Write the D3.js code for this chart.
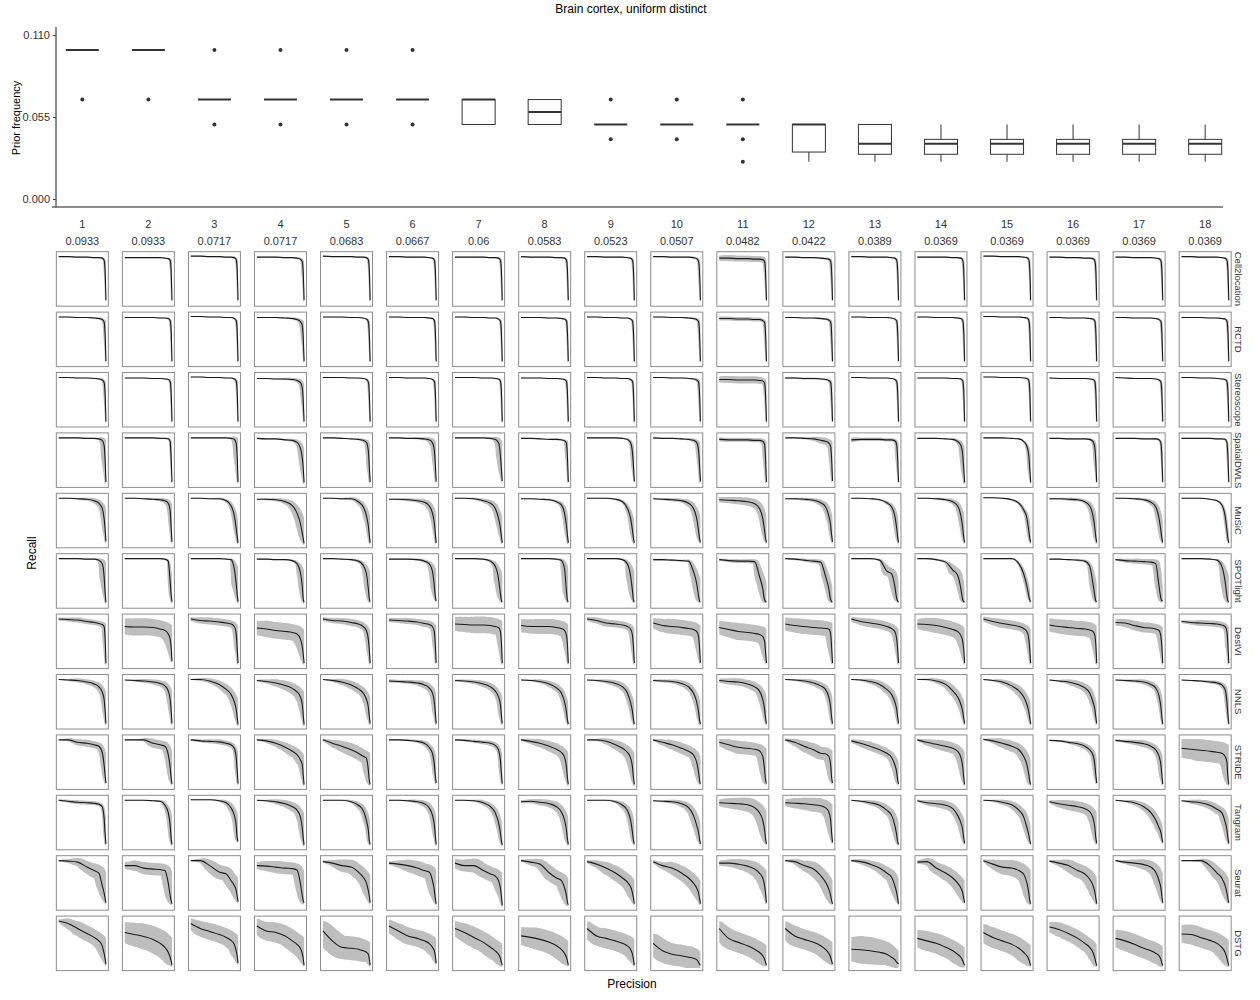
<!DOCTYPE html>
<html><head><meta charset="utf-8">
<script src="https://cdn.jsdelivr.net/npm/d3@7"></script>
<style>body{margin:0;background:#fff}svg text{font-family:"Liberation Sans",Arial,sans-serif}</style>
</head><body><svg id="c" width="1260" height="1000"></svg>
<script>
const title = "Brain cortex, uniform distinct";
const categories = ["1","2","3","4","5","6","7","8","9","10","11","12","13","14","15","16","17","18"];
const priorLabels = ["0.0933","0.0933","0.0717","0.0717","0.0683","0.0667","0.06","0.0583","0.0523","0.0507","0.0482","0.0422","0.0389","0.0369","0.0369","0.0369","0.0369","0.0369"];
const yTicks = [0, 0.055, 0.11];
const boxQ1  = [0.1,0.1,0.0667,0.0667,0.0667,0.0667,0.05,0.05,0.05,0.05,0.05,0.0315,0.03,0.03,0.03,0.03,0.03,0.03];
const boxMed = [0.1,0.1,0.0667,0.0667,0.0667,0.0667,0.0667,0.0583,0.05,0.05,0.05,0.05,0.037,0.037,0.037,0.037,0.037,0.037];
const boxQ3  = [0.1,0.1,0.0667,0.0667,0.0667,0.0667,0.0667,0.0667,0.05,0.05,0.05,0.05,0.05,0.04,0.04,0.04,0.04,0.04];
const whiskLo= [0.1,0.1,0.0667,0.0667,0.0667,0.0667,0.05,0.05,0.05,0.05,0.05,0.025,0.025,0.025,0.025,0.025,0.025,0.025];
const whiskHi= [0.1,0.1,0.0667,0.0667,0.0667,0.0667,0.0667,0.0667,0.05,0.05,0.05,0.05,0.05,0.05,0.05,0.05,0.05,0.05];
const outliers = [[0.0667],[0.0667],[0.1,0.05],[0.1,0.05],[0.1,0.05],[0.1,0.05],[],[],[0.0667,0.04],[0.0667,0.04],[0.0667,0.04,0.025],[],[],[],[],[],[],[]];

const methods = ["Cell2location","RCTD","Stereoscope","SpatialDWLS","MuSiC","SPOTlight","DestVI","NNLS","STRIDE","Tangram","Seurat","DSTG"];
const precisionKnots = [0,0.2,0.4,0.6,0.75,0.85,0.92,0.96,0.98,1];

// recall (%) at each precision knot (one array per column) and spread of the band (%)
const recall_Cell2location = [[95,95,94,94,93,93,92,88,70,7],[93,93,93,93,93,92,91,88,70,7],[96,96,95,95,94,94,93,89,72,7],[94,94,94,93,93,92,90,85,65,7],[96,95,95,95,94,94,93,89,72,7],[95,95,94,94,94,93,92,88,70,7],[94,94,94,94,93,93,92,88,70,7],[95,94,94,94,93,93,92,88,70,7],[95,95,94,94,94,93,92,88,70,7],[95,95,94,94,94,93,91,86,68,7],[92,92,91,91,90,90,89,85,65,7],[94,94,93,93,92,91,90,86,68,7],[95,95,94,94,94,93,92,88,70,7],[94,94,94,94,93,93,92,88,70,7],[96,96,95,95,95,94,93,89,72,7],[94,94,93,93,92,92,91,87,70,7],[94,94,93,93,93,92,91,87,70,7],[95,95,94,94,94,93,92,88,70,7]];
const band_Cell2location = [[1,1,1,1,1,1,2,3,3,2],[1,1,1,1,1,1,2,3,3,2],[1,1,1,1,1,1,2,3,3,2],[1,1,1,1,1,2,3,4,4,2],[1,1,1,1,1,1,2,3,3,2],[1,1,1,1,1,1,2,3,3,2],[1,1,1,1,1,1,2,3,3,2],[1,1,1,1,1,1,2,3,3,2],[1,1,1,1,1,1,2,3,3,2],[1,1,1,1,1,2,3,4,4,2],[5,6,6,6,6,6,6,5,4,2],[1,1,1,1,2,2,3,4,4,2],[1,1,1,1,1,1,2,3,3,2],[1,1,1,1,1,1,2,3,3,2],[1,1,1,1,1,1,2,3,3,2],[1,1,1,1,1,1,2,3,3,2],[1,1,1,1,1,1,2,3,3,2],[1,1,1,1,1,1,2,3,3,2]];
const recall_RCTD = [[95,95,94,94,93,92,90,85,65,6],[94,94,94,94,93,93,92,88,70,6],[96,96,95,95,94,94,92,88,70,6],[94,94,94,93,92,90,86,78,55,6],[95,95,95,94,94,93,91,86,65,6],[95,95,94,94,94,93,92,88,70,6],[95,95,94,94,93,93,91,87,68,6],[94,94,94,93,93,92,91,87,68,6],[95,95,94,94,93,93,91,87,68,6],[95,95,94,94,93,92,90,86,65,6],[92,92,91,91,90,90,88,84,62,6],[94,94,93,93,92,91,89,85,65,6],[95,95,94,94,94,93,91,87,68,6],[95,95,94,94,94,93,92,88,70,6],[96,96,95,95,95,94,93,89,72,6],[94,94,93,93,93,92,91,87,68,6],[94,94,93,93,93,92,90,86,66,6],[94,94,94,93,93,92,91,87,68,6]];
const band_RCTD = [[1,1,1,1,1,2,3,4,4,2],[1,1,1,1,1,1,2,3,3,2],[1,1,1,1,1,1,2,3,3,2],[1,1,1,1,2,3,5,6,5,2],[1,1,1,1,1,1,2,3,3,2],[1,1,1,1,1,1,2,3,3,2],[1,1,1,1,1,1,2,3,3,2],[1,1,1,1,1,1,2,3,3,2],[1,1,1,1,1,1,2,3,3,2],[1,1,1,1,1,2,3,4,4,2],[4,4,4,4,4,4,4,4,4,2],[1,1,1,1,2,2,3,4,4,2],[1,1,1,1,1,1,2,3,3,2],[1,1,1,1,1,1,2,3,3,2],[1,1,1,1,1,1,2,3,3,2],[1,1,1,1,1,1,2,3,3,2],[1,1,1,1,1,1,2,3,3,2],[1,1,1,1,1,1,2,3,3,2]];
const recall_Stereoscope = [[95,95,94,94,93,92,90,85,65,6],[94,94,94,93,93,92,91,87,68,6],[96,96,95,95,94,94,92,88,70,6],[93,93,92,92,91,89,85,75,50,6],[95,95,95,94,94,93,91,86,65,6],[95,95,94,94,94,93,91,87,68,6],[95,95,95,94,94,93,92,88,70,6],[94,94,94,93,93,92,91,87,68,6],[95,95,94,94,93,93,91,87,68,6],[95,95,94,94,93,92,90,86,65,6],[91,91,90,90,90,89,88,84,62,6],[94,94,93,93,92,91,89,85,65,6],[95,95,94,94,94,93,91,87,68,6],[94,94,94,94,93,93,92,88,70,6],[96,96,95,95,95,94,93,89,72,6],[94,93,93,93,93,92,91,87,68,6],[95,94,93,93,93,92,90,86,66,6],[95,95,94,94,93,92,91,87,68,6]];
const band_Stereoscope = [[1,1,1,1,1,2,3,4,4,2],[1,1,1,1,1,1,2,3,3,2],[1,1,1,1,1,1,2,3,3,2],[1,1,1,2,3,4,5,6,5,2],[1,1,1,1,1,1,2,3,3,2],[1,1,1,1,1,1,2,3,3,2],[1,1,1,1,1,1,2,3,3,2],[1,1,1,1,1,1,2,3,3,2],[1,1,1,1,1,1,2,3,3,2],[1,1,1,1,1,2,3,4,4,2],[6,7,7,7,7,7,6,5,4,2],[2,2,2,2,2,2,3,4,4,2],[1,1,1,1,1,1,2,3,3,2],[1,1,1,1,1,1,2,3,3,2],[1,1,1,1,1,1,2,3,3,2],[1,1,1,1,1,1,2,3,3,2],[1,1,1,1,1,1,2,3,3,2],[1,1,1,1,1,1,2,3,3,2]];
const recall_SpatialDWLS = [[95,95,95,94,94,93,90,80,55,6],[95,95,95,95,94,94,93,88,60,6],[95,95,95,95,95,94,92,84,60,6],[94,93,93,91,90,86,75,55,35,5],[95,95,94,93,92,90,86,70,40,6],[95,95,94,94,93,91,85,70,45,7],[95,95,95,95,94,92,85,60,35,8],[94,94,93,92,92,91,89,84,60,6],[95,95,95,95,94,92,85,65,40,7],[95,94,94,93,92,90,86,70,45,7],[92,91,91,91,90,90,88,82,55,6],[95,95,94,93,90,88,85,78,55,8],[91,92,92,92,91,91,89,82,55,6],[94,94,94,93,92,88,80,60,35,5],[95,95,95,94,93,88,78,60,35,5],[94,94,93,93,93,92,88,75,50,6],[94,94,94,93,93,93,91,85,60,6],[94,94,94,94,93,93,92,86,60,6]];
const band_SpatialDWLS = [[1,1,1,1,1,2,6,8,8,3],[1,1,1,1,1,1,2,3,3,2],[1,1,1,1,1,2,6,8,8,3],[1,1,1,2,3,5,7,8,7,3],[1,1,1,1,2,3,5,6,6,3],[1,1,1,2,3,5,7,7,6,3],[1,1,1,1,2,5,8,9,7,3],[1,1,1,1,2,2,3,5,5,2],[1,1,1,1,1,2,4,5,5,2],[1,1,1,2,2,4,5,6,5,3],[4,4,4,4,4,4,5,6,6,3],[1,1,2,4,6,7,7,7,6,3],[5,3,3,3,3,3,4,5,5,2],[1,1,1,1,2,4,6,7,6,3],[1,1,1,1,1,2,4,5,5,2],[1,1,1,1,1,2,4,5,5,2],[1,1,1,1,1,2,2,3,3,2],[1,1,1,1,1,1,2,3,3,2]];
const recall_MuSiC = [[95,95,94,93,90,85,75,55,35,8],[95,95,94,93,92,90,85,70,40,7],[95,95,94,94,90,80,60,35,20,5],[93,93,92,88,80,65,45,25,15,4],[95,95,94,94,88,78,60,40,22,5],[93,93,92,90,87,80,65,45,25,5],[95,95,94,90,85,75,55,35,20,5],[94,94,93,92,88,82,65,40,22,5],[95,95,95,93,88,75,55,30,15,5],[94,93,92,90,85,75,55,30,15,6],[92,91,90,88,84,75,55,30,15,6],[94,94,93,91,86,78,60,40,22,7],[95,95,94,92,86,78,60,35,18,6],[95,95,94,92,88,80,60,35,18,6],[96,96,95,92,85,72,55,30,15,6],[94,94,93,92,88,80,60,35,18,6],[95,95,94,92,87,78,55,30,15,6],[95,95,95,93,90,82,60,30,15,5]];
const band_MuSiC = [[1,1,2,3,5,6,7,7,6,3],[1,1,1,2,3,5,6,6,5,3],[1,1,1,2,3,5,6,6,5,3],[1,2,3,5,8,10,10,9,7,3],[1,1,2,3,5,6,7,6,5,3],[1,2,3,4,6,7,7,6,5,3],[1,1,2,4,6,7,8,7,5,3],[1,1,1,2,3,5,6,6,5,3],[1,1,1,2,3,5,6,6,5,3],[1,2,3,4,6,7,8,7,5,3],[5,6,7,8,9,9,8,7,5,3],[1,2,3,4,6,7,7,6,5,3],[1,1,1,2,3,5,6,6,5,3],[1,1,2,3,5,6,7,6,5,3],[1,1,1,2,3,4,5,5,4,3],[2,2,3,3,4,6,7,6,5,3],[1,1,2,3,5,6,7,6,5,3],[1,1,1,1,2,3,4,4,4,2]];
const recall_SPOTlight = [[95,95,95,94,94,92,85,60,30,7],[95,95,95,95,95,94,90,50,25,8],[95,95,95,95,94,93,75,45,25,8],[94,94,93,93,91,85,68,40,15,7],[95,95,94,93,90,82,65,35,15,8],[94,94,94,93,90,85,70,40,20,10],[95,95,95,94,90,80,55,25,12,8],[95,95,95,95,94,92,75,30,12,8],[95,95,95,95,93,85,60,30,12,8],[93,93,92,91,90,70,45,20,10,8],[93,91,90,90,89,60,35,12,9,8],[95,94,92,90,88,60,35,12,9,8],[95,95,95,92,70,65,40,15,10,8],[95,95,93,88,72,62,35,12,9,8],[95,95,95,95,85,65,40,20,12,8],[94,94,93,92,90,80,45,20,10,8],[93,91,90,89,88,85,40,15,10,10],[95,95,95,94,92,80,50,20,10,8]];
const band_SPOTlight = [[1,1,1,1,1,3,8,10,6,3],[1,1,1,1,1,1,3,5,5,3],[1,1,1,1,1,2,8,10,6,3],[1,1,1,1,2,4,8,8,5,3],[1,1,1,2,3,5,8,8,5,3],[1,1,1,2,3,5,8,8,5,3],[1,1,1,1,3,6,10,8,4,3],[1,1,1,1,1,3,8,8,4,3],[1,1,1,1,2,5,10,8,4,3],[2,2,2,2,3,8,10,8,4,3],[2,3,4,4,5,10,10,6,3,3],[1,2,3,4,5,8,8,5,3,3],[1,1,1,2,10,10,10,6,3,3],[1,1,2,3,10,10,8,5,3,3],[1,1,1,1,3,5,5,4,3,3],[1,1,1,2,3,5,8,6,4,3],[2,4,5,5,6,8,8,6,3,3],[1,1,1,1,2,6,10,8,4,3]];
const recall_DestVI = [[95,94,93,90,88,86,84,80,60,6],[80,79,79,78,75,72,65,55,40,10],[95,92,91,89,87,85,80,65,40,6],[77,75,72,70,68,65,55,40,25,6],[95,92,91,88,85,80,72,55,35,6],[93,92,91,89,86,84,80,70,45,7],[85,84,83,83,82,80,78,70,50,6],[82,80,80,80,78,76,72,62,45,6],[95,92,87,85,83,80,75,62,40,6],[87,82,80,78,76,74,70,60,40,7],[78,74,70,68,66,64,60,50,30,6],[85,82,80,78,77,76,75,65,40,6],[95,90,87,84,80,76,70,55,35,6],[85,84,82,78,74,70,62,50,35,6],[95,90,86,83,80,76,70,55,35,6],[83,80,78,76,75,73,70,62,45,6],[88,87,82,78,77,75,72,60,40,6],[90,88,87,86,85,83,80,70,45,6]];
const band_DestVI = [[3,4,5,5,5,5,6,6,6,3],[16,17,17,17,17,17,16,14,10,3],[4,6,7,7,7,7,7,7,6,3],[14,16,16,16,16,16,15,12,9,3],[4,5,6,7,7,7,7,7,6,3],[4,5,6,6,7,7,7,7,6,3],[14,15,16,16,16,16,15,12,9,3],[13,14,15,15,15,15,14,12,9,3],[4,6,7,7,7,7,7,7,6,3],[10,13,15,15,15,15,14,12,9,3],[13,15,17,17,17,17,16,13,9,3],[13,14,15,15,15,15,14,12,9,3],[5,7,9,9,9,9,9,8,6,3],[10,13,15,15,15,15,14,12,9,3],[5,7,9,9,9,9,9,8,6,3],[13,14,15,15,15,15,14,12,9,3],[6,8,10,10,10,10,10,9,7,3],[3,4,6,6,6,6,6,6,6,3]];
const recall_NNLS = [[95,94,93,90,86,80,70,55,35,6],[94,93,92,90,87,82,72,55,35,6],[95,95,92,85,75,65,50,35,20,4],[93,91,88,83,77,70,60,45,25,4],[95,93,90,84,76,68,55,40,22,6],[92,91,90,88,84,78,68,50,30,6],[93,92,90,86,80,72,60,45,25,6],[94,93,91,86,78,68,50,30,15,5],[94,93,91,87,80,68,48,30,15,5],[93,92,91,87,80,68,50,30,15,5],[93,91,90,86,80,72,55,35,18,6],[95,94,92,88,82,75,60,40,20,6],[95,94,91,85,75,65,50,35,20,6],[95,95,92,85,72,60,45,30,18,6],[95,93,90,82,72,60,45,30,18,5],[94,92,90,85,78,68,50,35,20,6],[94,93,92,90,85,78,62,40,20,5],[94,93,92,90,88,84,75,50,25,5]];
const band_NNLS = [[1,2,4,5,6,7,7,7,6,3],[1,2,4,5,6,7,7,7,6,3],[1,3,5,7,9,9,9,8,6,3],[2,4,7,9,11,11,11,9,6,3],[1,3,6,8,9,9,9,8,6,3],[3,3,4,5,7,7,7,7,6,3],[2,3,4,6,7,7,7,7,6,3],[1,2,4,6,7,7,7,6,5,3],[1,2,4,6,7,7,7,6,5,3],[2,3,4,6,7,7,7,6,5,3],[4,6,7,8,9,9,9,7,5,3],[1,2,4,6,7,7,7,6,5,3],[1,2,5,7,8,8,7,6,5,3],[1,2,5,7,9,9,8,6,5,3],[1,2,5,7,9,9,8,6,5,3],[1,2,5,7,8,8,7,6,5,3],[1,2,3,5,6,6,6,5,4,3],[1,1,2,3,4,5,5,5,4,2]];
const recall_STRIDE = [[95,95,90,88,85,82,70,45,25,8],[95,95,95,88,85,82,65,40,20,6],[95,93,92,91,88,85,78,60,35,7],[95,93,88,80,72,65,55,45,25,5],[95,88,82,75,68,62,58,35,15,5],[95,95,94,92,88,80,68,45,25,8],[95,94,92,90,88,84,75,55,30,7],[95,92,88,82,76,70,60,40,20,5],[95,95,92,85,78,70,58,40,20,5],[95,90,85,78,72,65,50,30,15,6],[90,85,80,78,76,73,62,35,15,7],[95,90,82,75,68,67,62,45,20,8],[93,88,82,75,68,60,45,30,15,6],[95,90,86,82,78,72,60,40,20,5],[96,93,88,82,75,62,45,25,12,5],[94,93,90,87,82,75,65,45,25,8],[94,92,90,87,82,75,62,45,25,6],[78,76,74,72,70,68,62,50,20,5]];
const band_STRIDE = [[1,3,6,7,7,7,7,7,6,3],[1,1,3,9,9,9,9,8,6,3],[2,3,4,5,5,5,5,5,5,3],[1,4,7,9,11,11,11,9,6,3],[2,7,11,13,13,13,13,11,7,3],[1,1,2,3,5,6,6,6,5,3],[1,2,3,4,5,5,5,5,5,3],[2,5,8,10,11,11,11,9,6,3],[1,2,6,9,11,11,11,9,6,3],[2,6,9,11,11,11,11,9,6,3],[7,11,13,13,13,13,13,11,7,3],[2,7,11,13,13,13,13,11,7,3],[3,7,9,9,9,9,9,8,6,3],[2,6,9,11,11,11,11,9,6,3],[1,5,9,11,11,11,10,8,6,3],[1,2,3,5,6,6,6,6,5,3],[2,3,5,7,7,7,7,7,6,3],[18,20,22,22,22,22,20,15,9,3]];
const recall_Tangram = [[95,93,91,90,89,87,82,60,30,7],[95,95,95,94,93,85,70,45,20,6],[96,96,96,94,90,80,65,45,20,12],[95,94,92,88,82,75,62,40,20,5],[95,95,95,92,85,75,55,35,15,6],[95,95,94,92,88,80,65,45,25,6],[95,95,94,90,82,70,50,30,15,5],[92,93,91,88,82,72,55,35,18,6],[95,95,95,92,85,75,55,30,15,7],[94,93,92,88,80,65,45,30,18,7],[90,89,88,86,80,70,55,35,18,7],[90,89,88,86,84,80,72,55,30,10],[95,93,90,85,75,65,45,25,12,6],[94,90,88,85,78,65,50,35,20,8],[95,94,91,86,75,62,40,25,15,7],[92,88,85,82,78,72,60,40,20,8],[95,93,90,82,70,55,40,30,20,10],[94,92,90,85,77,70,52,35,20,8]];
const band_Tangram = [[2,3,4,4,4,4,4,4,4,3],[1,1,1,1,2,5,6,6,5,3],[1,1,1,2,5,7,7,7,5,3],[1,2,5,7,9,9,9,8,6,3],[1,1,1,3,6,7,7,6,5,3],[1,1,2,4,6,7,7,7,5,3],[1,1,2,5,6,7,7,6,5,3],[3,4,6,7,9,9,9,8,6,3],[1,1,1,3,6,7,7,6,5,3],[1,2,4,6,8,9,9,8,6,3],[7,10,12,14,14,14,14,12,7,3],[7,10,12,14,14,14,14,12,7,3],[1,2,5,7,9,9,9,7,5,3],[2,5,7,9,9,9,9,8,6,3],[1,2,5,7,9,9,8,7,5,3],[3,7,10,11,11,11,11,9,6,3],[1,2,5,7,9,9,8,7,5,3],[1,4,6,8,9,9,9,8,6,3]];
const recall_Seurat = [[95,94,92,82,75,70,45,30,20,10],[85,85,80,78,77,75,50,25,15,8],[95,95,85,72,68,55,45,35,25,12],[85,84,82,80,79,76,50,25,15,10],[93,90,85,82,72,62,50,35,25,10],[90,88,85,80,75,72,55,35,20,8],[90,85,85,75,68,64,55,40,25,5],[95,92,88,70,60,55,40,25,12,6],[93,88,80,70,60,52,42,30,20,8],[93,85,80,70,60,50,40,30,20,8],[90,90,88,84,78,70,60,45,30,10],[95,93,85,78,65,52,38,25,15,8],[95,93,88,80,70,62,45,30,20,8],[92,93,80,70,60,50,40,30,20,10],[95,88,82,80,75,68,50,30,15,8],[94,90,85,75,68,58,45,32,20,8],[95,92,90,87,82,72,55,40,25,10],[95,95,95,85,70,60,45,30,20,10]];
const band_Seurat = [[1,4,8,12,14,14,12,10,7,3],[7,10,12,12,12,12,12,10,7,3],[1,4,12,14,14,14,14,12,9,3],[7,10,12,12,12,12,12,10,7,3],[2,6,12,14,14,14,14,12,9,3],[3,7,12,14,14,14,14,12,7,3],[9,12,14,14,14,14,14,12,7,3],[2,6,10,14,14,14,14,12,7,3],[3,7,12,14,14,14,14,12,7,3],[3,7,12,14,14,14,14,12,7,3],[5,7,10,12,14,14,14,12,7,3],[1,5,10,14,14,14,14,12,7,3],[2,5,7,10,12,12,12,10,7,3],[3,7,12,14,14,14,14,12,7,3],[2,9,14,16,16,16,14,12,7,3],[2,6,12,14,14,14,14,12,7,3],[1,4,7,10,12,12,12,10,7,3],[1,1,3,10,12,12,12,10,7,3]];
const recall_DSTG = [[95,90,80,70,62,55,45,30,20,8],[72,68,64,58,50,42,32,22,15,6],[90,80,74,68,62,56,48,35,25,10],[85,75,72,65,55,48,40,30,20,6],[75,55,42,40,38,35,32,28,20,6],[85,75,65,60,55,50,42,35,25,10],[80,72,62,52,42,35,28,20,12,6],[65,62,58,52,45,38,30,22,15,6],[80,65,60,55,50,45,38,28,18,6],[50,35,28,25,22,20,17,12,8,6],[80,60,52,45,38,32,25,18,12,6],[80,65,58,52,45,38,30,22,15,8],[38,37,35,32,28,22,17,12,10,8],[60,55,50,42,35,28,22,15,10,6],[72,62,55,48,40,32,25,18,12,5],[83,78,70,60,50,42,32,20,12,5],[60,55,48,40,35,30,25,18,10,5],[69,68,62,56,50,42,32,20,12,5]];
const band_DSTG = [[3,10,14,15,15,15,14,11,7,3],[20,23,25,25,25,23,20,16,10,3],[10,15,17,17,17,17,16,13,9,3],[14,18,20,20,20,20,18,14,9,3],[20,23,23,23,23,22,20,16,10,3],[12,15,17,17,17,17,16,13,9,3],[14,18,20,20,20,20,18,14,8,3],[17,20,22,22,22,22,20,16,10,3],[14,18,20,20,20,20,18,14,8,3],[20,22,22,22,22,20,17,13,8,3],[14,20,20,20,20,20,18,14,8,3],[14,20,20,20,20,20,18,14,8,3],[24,27,27,25,22,19,16,12,8,3],[17,20,20,20,20,20,18,14,8,3],[17,20,20,20,20,20,18,14,8,3],[10,14,15,15,15,15,14,11,8,3],[17,20,20,20,20,20,18,14,8,3],[17,20,20,20,20,20,18,14,8,3]];

const recallRows = [recall_Cell2location,recall_RCTD,recall_Stereoscope,recall_SpatialDWLS,recall_MuSiC,recall_SPOTlight,recall_DestVI,recall_NNLS,recall_STRIDE,recall_Tangram,recall_Seurat,recall_DSTG];
const bandRows = [band_Cell2location,band_RCTD,band_Stereoscope,band_SpatialDWLS,band_MuSiC,band_SPOTlight,band_DestVI,band_NNLS,band_STRIDE,band_Tangram,band_Seurat,band_DSTG];

const svg = d3.select("#c");
const dark = "#333333";

// ---------- top panel ----------
const x = d3.scaleBand().domain(categories).range([49.3, 49.3 + 18 * 66.05]);
const cx = c => x(c) + x.bandwidth() / 2;
const yTop = d3.scaleLinear().domain([0, 0.11]).range([199, 35]);
const boxW = x.bandwidth() * 0.5;

svg.append("text").attr("x", 631).attr("y", 13).attr("text-anchor", "middle")
  .style("font-size", "12px").attr("fill", "#000").text(title);

svg.append("text").attr("transform", "translate(20,118) rotate(-90)").attr("text-anchor", "middle")
  .style("font-size", "11px").attr("fill", "#000").text("Prior frequency");

const yAx = svg.append("g").attr("transform", "translate(56,0)")
  .call(d3.axisLeft(yTop).tickValues(yTicks).tickFormat(d3.format(".3f")).tickSize(3).tickPadding(3));
yAx.select(".domain").remove();
yAx.selectAll(".tick line").attr("stroke", dark);
yAx.selectAll(".tick text").attr("fill", dark).style("font-size", "11px")
  .style("font-family", '"Liberation Sans", Arial, sans-serif');

svg.append("line").attr("x1", 56).attr("x2", 56).attr("y1", 27).attr("y2", 207.5)
  .attr("stroke", "#666").attr("stroke-width", 1.5);
svg.append("line").attr("x1", 52).attr("x2", 1223).attr("y1", 207).attr("y2", 207)
  .attr("stroke", "#666").attr("stroke-width", 1.5);

const lab = svg.append("g");
lab.selectAll("text.cat").data(categories).join("text").attr("class", "cat")
  .attr("x", d => cx(d)).attr("y", 228).attr("text-anchor", "middle")
  .style("font-size", "11px").attr("fill", dark).text(d => d);
lab.selectAll("text.pri").data(categories).join("text").attr("class", "pri")
  .attr("x", d => cx(d)).attr("y", 244.5).attr("text-anchor", "middle")
  .style("font-size", "11px").attr("fill", dark).text((d, i) => priorLabels[i]);

const boxes = svg.append("g");
categories.forEach((c, i) => {
  const g = boxes.append("g");
  const xc = cx(c);
  g.append("line").attr("x1", xc).attr("x2", xc).attr("y1", yTop(whiskHi[i])).attr("y2", yTop(boxQ3[i]))
    .attr("stroke", dark).attr("stroke-width", 1);
  g.append("line").attr("x1", xc).attr("x2", xc).attr("y1", yTop(boxQ1[i])).attr("y2", yTop(whiskLo[i]))
    .attr("stroke", dark).attr("stroke-width", 1);
  g.append("rect").attr("x", xc - boxW / 2).attr("width", boxW)
    .attr("y", yTop(boxQ3[i])).attr("height", yTop(boxQ1[i]) - yTop(boxQ3[i]))
    .attr("fill", "#fff").attr("stroke", dark).attr("stroke-width", 1);
  g.append("line").attr("x1", xc - boxW / 2).attr("x2", xc + boxW / 2)
    .attr("y1", yTop(boxMed[i])).attr("y2", yTop(boxMed[i]))
    .attr("stroke", dark).attr("stroke-width", 2);
  g.selectAll("circle").data(outliers[i]).join("circle")
    .attr("cx", xc).attr("cy", d => yTop(d)).attr("r", 2).attr("fill", dark);
});

// ---------- grid of precision-recall panels ----------
const rowBand = d3.scaleBand().domain(methods).range([248.75, 248.75 + 12 * 60.4]);
const cellW = 52, cellH = 54.5;
const px = d3.scaleLinear().domain([-0.05, 1.05]).range([0, cellW]);
const py = d3.scaleLinear().domain([-5, 105]).range([cellH, 0]);
const pxPerUnit = py(0) - py(1);
const line = d3.line().x(d => px(d.p)).y(d => py(d.r)).curve(d3.curveMonotoneX);

const defs = svg.append("defs");
defs.append("clipPath").attr("id", "cellclip").attr("clipPathUnits", "userSpaceOnUse")
  .append("rect").attr("x", px(0)).attr("y", py(101)).attr("width", px(1) - px(0)).attr("height", py(0) - py(101));

const probe = svg.append("path").attr("fill", "none").attr("stroke", "none");
function bandPath(lineD, widths) {
  probe.attr("d", lineD);
  const node = probe.node();
  const L = node.getTotalLength();
  const n = Math.max(2, Math.ceil(L / 0.8));
  const wAt = d3.scaleLinear().domain(precisionKnots).range(widths).clamp(true);
  let d = "";
  for (let i = 0; i <= n; i++) {
    const pt = node.getPointAtLength(L * i / n);
    const r = Math.max(0.3, wAt(px.invert(pt.x)) * pxPerUnit);
    d += `M${(pt.x - r).toFixed(2)},${pt.y.toFixed(2)}a${r.toFixed(2)},${r.toFixed(2)} 0 1,0 ${(2 * r).toFixed(2)},0a${r.toFixed(2)},${r.toFixed(2)} 0 1,0 ${(-2 * r).toFixed(2)},0`;
  }
  return d;
}

const grid = svg.append("g");
methods.forEach((m, ri) => {
  const y0 = rowBand(m) + (rowBand.bandwidth() - cellH) / 2;
  categories.forEach((c, ci) => {
    const x0 = x(c) + (x.bandwidth() - cellW) / 2;
    const g = grid.append("g").attr("transform", `translate(${x0},${y0})`);
    const pts = precisionKnots.map((p, k) => ({ p, r: recallRows[ri][ci][k] }));
    const lineD = line(pts);
    g.append("path").attr("d", bandPath(lineD, bandRows[ri][ci]))
      .attr("fill", "#bebebe").attr("clip-path", "url(#cellclip)");
    g.append("path").attr("d", lineD).attr("fill", "none")
      .attr("stroke", "#1a1a1a").attr("stroke-width", 1.1);
    g.append("rect").attr("width", cellW).attr("height", cellH).attr("fill", "none")
      .attr("stroke", "#8c8c8c").attr("stroke-width", 1);
  });
  grid.append("text")
    .attr("transform", `translate(1235,${rowBand(m) + rowBand.bandwidth() / 2}) rotate(90)`)
    .attr("text-anchor", "middle").style("font-size", "9.5px").attr("fill", dark).text(m);
});
probe.remove();

svg.append("text").attr("transform", "translate(36,553) rotate(-90)").attr("text-anchor", "middle")
  .style("font-size", "12px").attr("fill", "#000").text("Recall");
svg.append("text").attr("x", 632).attr("y", 988).attr("text-anchor", "middle")
  .style("font-size", "12px").attr("fill", "#000").text("Precision");
</script>
</body></html>
